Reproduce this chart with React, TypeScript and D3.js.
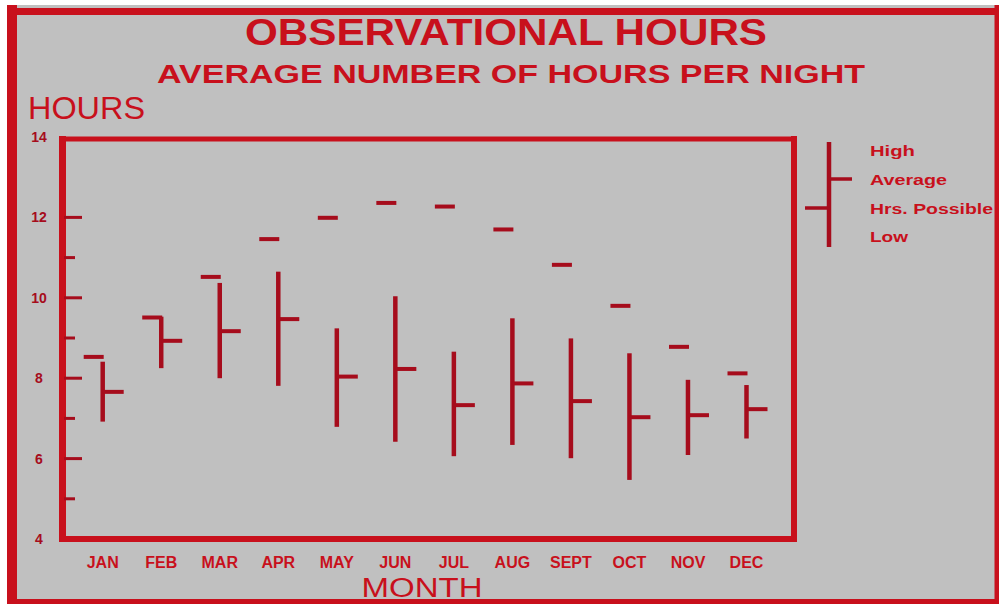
import React from "react";
import * as d3 from "d3";

const months = ["JAN", "FEB", "MAR", "APR", "MAY", "JUN", "JUL", "AUG", "SEPT", "OCT", "NOV", "DEC"];
const highHours = [8.41, 9.53, 10.37, 10.65, 9.24, 10.04, 8.66, 9.49, 8.99, 8.62, 7.96, 7.83];
const lowHours = [6.92, 8.25, 8.0, 7.81, 6.79, 6.42, 6.06, 6.34, 6.01, 5.47, 6.09, 6.5];
const avgHours = [7.66, 8.93, 9.17, 9.47, 8.04, 8.23, 7.33, 7.87, 7.43, 7.03, 7.08, 7.23];
const possibleHours = [8.53, 9.51, 10.52, 11.46, 11.99, 12.36, 12.27, 11.7, 10.82, 9.8, 8.78, 8.12];
const yTickLabels = [4, 6, 8, 10, 12, 14];
const yMinorTicks = [5, 7, 9, 11];
const legendLabels = ["High", "Average", "Hrs. Possible", "Low"];

const RED = "#c8101c";
const BAR = "#a60c1c";
const FONT = "'Liberation Sans', Arial, sans-serif";

export default function App() {
  const x = d3.scalePoint<string>().domain(months).range([102.7, 746.5]);
  const y = d3.scaleLinear().domain([4, 14]).range([539, 137]);

  const legendY = [151, 180, 209, 237];
  const legendW = [45, 77, 123, 38];

  return (
    <svg
      width={999}
      height={604}
      style={{ position: "absolute", left: 0, top: 0, display: "block" }}
      fontFamily={FONT}
    >
      <rect x={0} y={0} width={999} height={604} fill="#ffffff" />
      <rect x={7} y={5} width={992} height={599} fill="#c0c0c0" />

      {/* titles */}
      <text x={506} y={45} textAnchor="middle" fontSize={37} fontWeight="bold" fill={RED}
        textLength={522} lengthAdjust="spacingAndGlyphs">OBSERVATIONAL HOURS</text>
      <text x={511} y={83} textAnchor="middle" fontSize={26} fontWeight="bold" fill={RED}
        textLength={708} lengthAdjust="spacingAndGlyphs">AVERAGE NUMBER OF HOURS PER NIGHT</text>
      <text x={28} y={119} fontSize={32} fill={RED} textLength={117}
        lengthAdjust="spacingAndGlyphs">HOURS</text>

      {/* plot frame */}
      <line x1={62.5} x2={62.5} y1={136} y2={542} stroke={RED} strokeWidth={7} />
      <line x1={59} x2={797} y1={139} y2={139} stroke={RED} strokeWidth={5} />
      <line x1={794} x2={794} y1={136} y2={542} stroke={RED} strokeWidth={6} />
      <line x1={59} x2={797} y1={539} y2={539} stroke={RED} strokeWidth={6} />

      {/* y ticks */}
      {yTickLabels.map((v) => (
        <g key={"t" + v}>
          {v > 4 && v < 14 && (
            <line x1={64} x2={82} y1={y(v)} y2={y(v)} stroke={BAR} strokeWidth={3} />
          )}
          <text x={39} y={y(v)} dy="0.36em" textAnchor="middle" fontSize={14} fontWeight="bold" fill={BAR}>
            {v}
          </text>
        </g>
      ))}
      {yMinorTicks.map((v) => (
        <line key={"m" + v} x1={64} x2={75} y1={y(v)} y2={y(v)} stroke={BAR} strokeWidth={3} />
      ))}

      {/* bars */}
      {months.map((m, i) => {
        const cx = x(m) as number;
        return (
          <g key={m}>
            <line x1={cx - 19} x2={cx + 1} y1={y(possibleHours[i])} y2={y(possibleHours[i])}
              stroke={BAR} strokeWidth={4} />
            <line x1={cx} x2={cx} y1={y(highHours[i])} y2={y(lowHours[i])} stroke={BAR} strokeWidth={4.5} />
            <line x1={cx} x2={cx + 21} y1={y(avgHours[i])} y2={y(avgHours[i])} stroke={BAR} strokeWidth={4} />
            <text x={cx} y={568} textAnchor="middle" fontSize={16} fontWeight="bold" fill={RED}>
              {m}
            </text>
          </g>
        );
      })}

      {/* legend */}
      <line x1={829} x2={829} y1={142} y2={247} stroke={BAR} strokeWidth={4.5} />
      <line x1={829} x2={852} y1={179} y2={179} stroke={BAR} strokeWidth={3.5} />
      <line x1={805} x2={829} y1={208} y2={208} stroke={BAR} strokeWidth={3.5} />
      {legendLabels.map((l, i) => (
        <text key={l} x={870} y={legendY[i]} dy="0.36em" fontSize={14} fontWeight="bold" fill={RED}
          textLength={legendW[i]} lengthAdjust="spacingAndGlyphs">{l}</text>
      ))}

      {/* x title */}
      <text x={422} y={597} textAnchor="middle" fontSize={27} fill={RED} textLength={121}
        lengthAdjust="spacingAndGlyphs">MONTH</text>

      {/* outer border */}
      <line x1={12} x2={12} y1={5} y2={604} stroke={RED} strokeWidth={10} />
      <line x1={7} x2={999} y1={11.5} y2={11.5} stroke={RED} strokeWidth={7} />
      <line x1={997} x2={997} y1={5} y2={604} stroke={RED} strokeWidth={5} />
      <line x1={7} x2={999} y1={601.5} y2={601.5} stroke={RED} strokeWidth={5} />
    </svg>
  );
}
